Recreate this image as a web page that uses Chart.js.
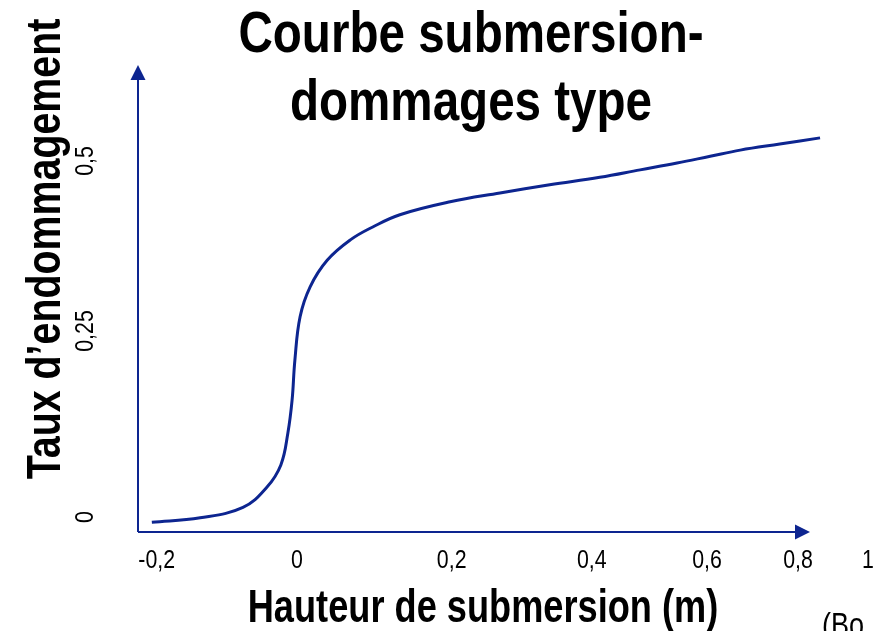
<!DOCTYPE html>
<html lang="fr">
<head>
<meta charset="utf-8">
<title>Courbe submersion-dommages type</title>
<script src="https://cdn.jsdelivr.net/npm/chart.js@4.4.1/dist/chart.umd.min.js"></script>
<style>
  html, body { margin: 0; padding: 0; background: #fff; }
  canvas { display: block; }
</style>
</head>
<body>
<canvas id="courbe" width="874" height="631"></canvas>
<script>
// Hauteur de submersion (m) et taux d'endommagement correspondant
const hauteur = [-0.207, -0.138, -0.077, -0.043, -0.023, -0.013, -0.007, -0.003, 0.004, 0.017,
                 0.039, 0.069, 0.098, 0.133, 0.198, 0.269, 0.340, 0.414, 0.484, 0.548,
                 0.607, 0.673, 0.760, 0.863];
const taux = [-0.007, -0.001, 0.013, 0.040, 0.070, 0.113, 0.157, 0.211, 0.271, 0.315,
              0.354, 0.384, 0.403, 0.421, 0.440, 0.453, 0.465, 0.476, 0.487, 0.497,
              0.507, 0.516, 0.525, 0.534];

// Graduations affichées
const xGraduations = [-0.2, 0, 0.2, 0.4, 0.6, 0.8, 1];
const yGraduations = [0, 0.25, 0.5];

const titre = ["Courbe submersion-", "dommages type"];
const titreX = "Hauteur de submersion (m)";
const titreY = "Taux d\u2019endommagement";
const source = "(Bo";

const BLEU = "#0d2590";
const POLICE = '"Liberation Sans", Arial, sans-serif';
const SERRE = 0.82; // police étroite simulée par compression horizontale

// Échelle linéaire par morceaux : chaque graduation a sa propre place sur l'axe
class EchelleSegments extends Chart.LinearScale {
  getPixelForValue(value) {
    const v = this.options.segments.valeurs;
    const f = this.options.segments.fractions;
    let i = 1;
    while (i < v.length - 1 && value > v[i]) i++;
    const d = f[i - 1] + (value - v[i - 1]) / (v[i] - v[i - 1]) * (f[i] - f[i - 1]);
    return this.getPixelForDecimal(d);
  }
  getValueForPixel(pixel) {
    const v = this.options.segments.valeurs;
    const f = this.options.segments.fractions;
    const d = this.getDecimalForPixel(pixel);
    let i = 1;
    while (i < f.length - 1 && d > f[i]) i++;
    return v[i - 1] + (d - f[i - 1]) / (f[i] - f[i - 1]) * (v[i] - v[i - 1]);
  }
}
EchelleSegments.id = "segments";
EchelleSegments.defaults = {};
Chart.register(EchelleSegments);

const xSegments = {
  valeurs:   [-0.227, -0.2, 0, 0.2, 0.4, 0.6, 0.8, 1],
  fractions: [0, 0.0256, 0.2178, 0.4297, 0.6215, 0.7795, 0.9041, 1]
};
const ySegments = {
  valeurs:   [-0.02, 0, 0.25, 0.5, 0.641],
  fractions: [0, 0.0321, 0.4304, 0.7944, 1]
};

const fmt = v => String(v).replace(".", ",");

function texte(ctx, str, x, y, font, opts = {}) {
  ctx.save();
  ctx.translate(x, y);
  if (opts.angle) ctx.rotate(opts.angle);
  ctx.scale(opts.serre || SERRE, 1);
  ctx.font = font;
  ctx.textAlign = opts.align || "center";
  ctx.textBaseline = "alphabetic";
  ctx.fillText(str, 0, 0);
  ctx.restore();
}

// Axes fléchés, graduations et textes
const habillage = {
  id: "habillage",
  beforeDatasetsDraw(chart) {
    const ctx = chart.ctx;
    const { left, bottom } = chart.chartArea;
    const finX = 810, finY = 65;
    ctx.save();
    ctx.strokeStyle = BLEU;
    ctx.fillStyle = BLEU;
    ctx.lineWidth = 2;
    ctx.beginPath();
    ctx.moveTo(left, bottom);
    ctx.lineTo(finX - 12, bottom);
    ctx.moveTo(left, bottom);
    ctx.lineTo(left, finY + 12);
    ctx.stroke();
    ctx.beginPath();
    ctx.moveTo(finX, bottom);
    ctx.lineTo(finX - 15, bottom - 7.5);
    ctx.lineTo(finX - 15, bottom + 7.5);
    ctx.closePath();
    ctx.fill();
    ctx.beginPath();
    ctx.moveTo(left, finY);
    ctx.lineTo(left - 7.5, finY + 15);
    ctx.lineTo(left + 7.5, finY + 15);
    ctx.closePath();
    ctx.fill();
    ctx.restore();
  },
  afterDraw(chart) {
    const ctx = chart.ctx;
    const sx = chart.scales.x, sy = chart.scales.y;
    ctx.save();
    ctx.fillStyle = "#000";
    const petit = "26px " + POLICE;
    xGraduations.forEach(v => texte(ctx, fmt(v), sx.getPixelForValue(v), 568, petit));
    yGraduations.forEach(v => texte(ctx, fmt(v), 93, sy.getPixelForValue(v), petit, { angle: -Math.PI / 2 }));

    const grand = "bold 58px " + POLICE;
    texte(ctx, titre[0], 471, 52, grand);
    texte(ctx, titre[1], 471, 120, grand);

    texte(ctx, titreX, 483, 622, "bold 47px " + POLICE, { serre: 0.77 });
    texte(ctx, titreY, 60, 249, "bold 48px " + POLICE, { angle: -Math.PI / 2 });

    texte(ctx, source, 822, 636, "33px " + POLICE, { align: "left" });
    ctx.restore();
  }
};

new Chart(document.getElementById("courbe"), {
  type: "line",
  data: {
    datasets: [{
      data: hauteur.map((h, i) => ({ x: h, y: taux[i] })),
      borderColor: BLEU,
      borderWidth: 3,
      pointRadius: 0,
      tension: 0.4,
      fill: false
    }]
  },
  options: {
    responsive: false,
    animation: false,
    events: [],
    layout: { padding: { left: 138, right: 6, top: 65, bottom: 99 } },
    plugins: { legend: { display: false }, tooltip: { enabled: false } },
    scales: {
      x: { type: "segments", display: false, min: -0.227, max: 1, segments: xSegments },
      y: { type: "segments", display: false, min: -0.02, max: 0.641, segments: ySegments }
    }
  },
  plugins: [habillage]
});
</script>
</body>
</html>
